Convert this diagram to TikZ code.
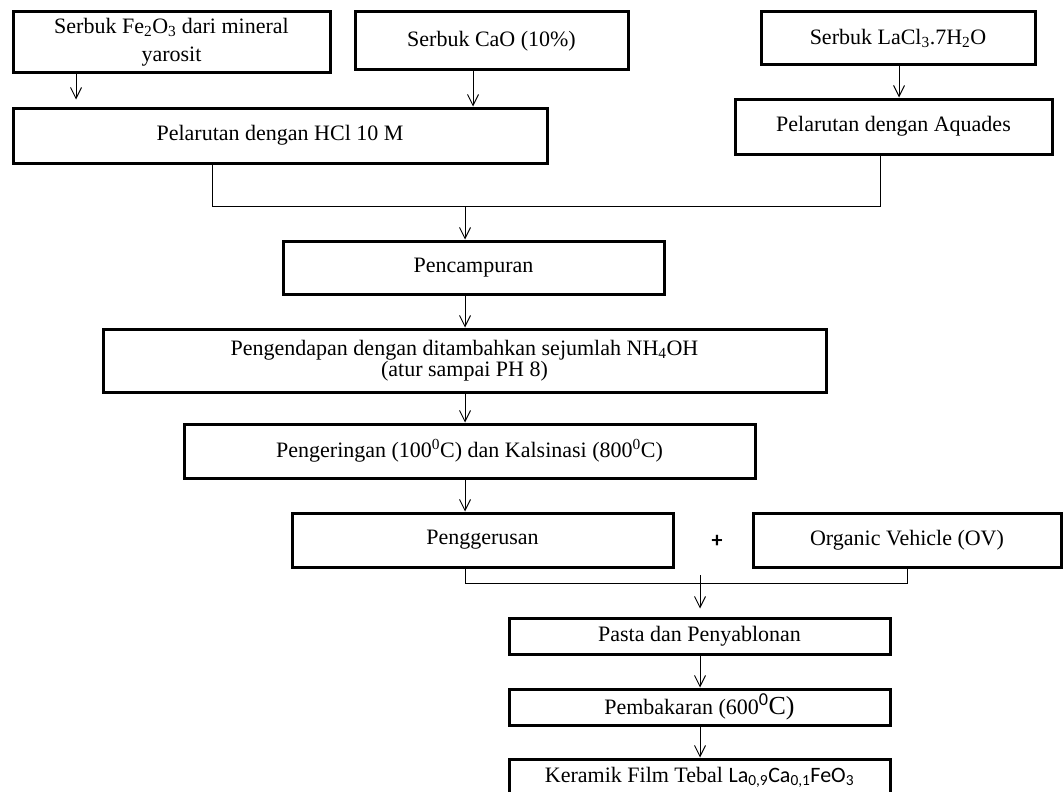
\documentclass[tikz,border=0pt]{standalone}
\usepackage{fontspec}
\setmainfont{Liberation Serif}
\newfontfamily\calibri{Carlito}
\usetikzlibrary{arrows.meta}
\begin{document}
\begin{tikzpicture}[x=1pt,y=-1pt,
  box/.style={draw, line width=3pt, inner sep=0pt, align=center, font=\fontsize{22}{28}\selectfont},
  conn/.style={line width=1pt},
  arr/.style={conn, -{Straight Barb[length=11pt,width=11pt,line width=1pt]}}]
\useasboundingbox (0,0) rectangle (1063,792);
\fill[white] (0,0) rectangle (1063,792);
% nodes
\node[box, minimum width=317pt, minimum height=61pt] (fe) at (171.5,42.5) {Serbuk Fe\textsubscript{2}O\textsubscript{3} dari mineral\\yarosit};
\node[box, minimum width=273pt, minimum height=58pt] (cao) at (491.5,41) {Serbuk CaO (10\%)};
\node[box, minimum width=274pt, minimum height=53pt] (lacl) at (898,38.5) {Serbuk LaCl\textsubscript{3}.7H\textsubscript{2}O};
\node[box, minimum width=534pt, minimum height=55pt] (hcl) at (280,135.5) {Pelarutan dengan HCl 10 M};
\node[box, minimum width=317pt, minimum height=55pt] (aq) at (893.5,126.5) {Pelarutan dengan Aquades};
\node[box, minimum width=381pt, minimum height=53pt] (mix) at (473.5,267.5) {Pencampuran};
\node[box, minimum width=723pt, minimum height=63pt, font=\fontsize{22}{20}\selectfont] (endap) at (464.5,360.5) {Pengendapan dengan ditambahkan sejumlah NH\textsubscript{4}OH\\(atur sampai PH 8)};
\node[box, minimum width=571pt, minimum height=54pt] (kering) at (469.5,451) {Pengeringan (100\textsuperscript{0}C) dan Kalsinasi (800\textsuperscript{0}C)};
\node[box, minimum width=381pt, minimum height=54pt] (gerus) at (482.5,540) {Penggerusan};
\node[font=\fontsize{22}{26}\selectfont\calibri\bfseries] (plus) at (717,541) {+};
\node[box, minimum width=308pt, minimum height=54pt] (ov) at (907,540) {Organic Vehicle (OV)};
\node[box, minimum width=381pt, minimum height=36pt] (pasta) at (699.5,636) {Pasta dan Penyablonan};
\node[box, minimum width=381pt, minimum height=36pt] (bakar) at (699.5,707) {Pembakaran (600{\fontsize{26}{28}\selectfont\textsuperscript{\calibri 0}C)}};
\node[box, minimum width=381pt, minimum height=36pt] (ker) at (699.5,777) {Keramik Film Tebal {\calibri La\textsubscript{0,9}Ca\textsubscript{0,1}FeO\textsubscript{3}}};
% helper coordinates
\coordinate (xfe) at (76,0);
\coordinate (xcao) at (473,0);
\coordinate (xla) at (899,0);
\coordinate (xhcl) at (212,0);
\coordinate (xaq) at (880,0);
\coordinate (j1) at (465,206);
\coordinate (j2) at (465,583);
\coordinate (xov) at (907,0);
\coordinate (a0) at (700,575);
% connectors
\draw[arr, shorten >=7pt] (fe.south -| xfe) -- (hcl.north -| xfe);
\draw[arr] (cao.south -| xcao) -- (hcl.north -| xcao);
\draw[arr] (lacl.south -| xla) -- (aq.north -| xla);
\draw[conn] (hcl.south -| xhcl) -- (xhcl |- j1) -- (xaq |- j1) -- (aq.south -| xaq);
\draw[arr] (j1) -- (mix.north -| j1);
\draw[arr] (mix.south -| j1) -- (endap.north -| j1);
\draw[arr] (endap.south -| j1) -- (kering.north -| j1);
\draw[arr] (kering.south -| j1) -- (gerus.north -| j1);
\draw[conn] (gerus.south -| j2) -- (j2) -- (xov |- j2) -- (ov.south -| xov);
\draw[arr, shorten >=8pt] (a0) -- (pasta.north -| a0);
\draw[arr] (pasta.south -| a0) -- (bakar.north -| a0);
\draw[arr] (bakar.south -| a0) -- (ker.north -| a0);
\end{tikzpicture}
\end{document}
